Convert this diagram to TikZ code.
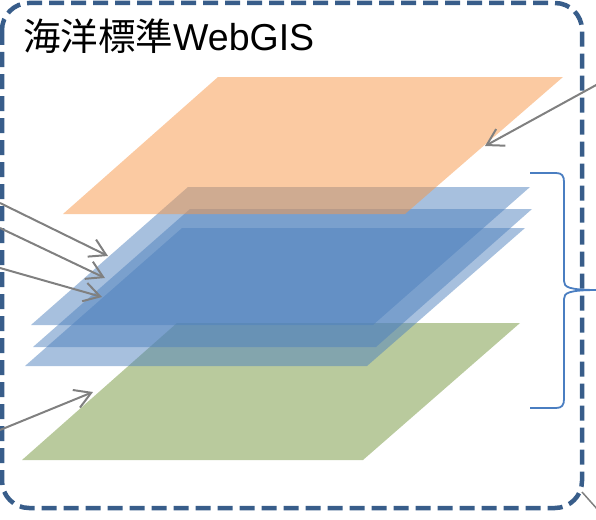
\documentclass[tikz,border=0pt]{standalone}
\usepackage{fontspec}
\setmainfont{Liberation Sans}
\newfontfamily\cjk{Noto Sans CJK JP}
\usetikzlibrary{arrows.meta}
\definecolor{layerorange}{RGB}{247,150,70}
\definecolor{layerblue}{RGB}{79,129,189}
\definecolor{layergreen}{RGB}{185,202,157}
\definecolor{framecol}{RGB}{56,93,138}
\definecolor{bracecol}{RGB}{74,126,193}
\definecolor{arrowgray}{RGB}{128,128,128}
\tikzset{
  framebox/.style={draw=framecol, line width=4.5pt, dash pattern=on 15pt off 7pt, rounded corners=27pt},
  bluelayer/.style={fill=layerblue, fill opacity=0.5, draw=none},
  orangelayer/.style={fill=layerorange, fill opacity=0.5, draw=none},
  greenlayer/.style={fill=layergreen, draw=none},
  pointer/.style={draw=arrowgray, line width=2pt, -{Straight Barb[length=16pt,width=19pt,line width=2pt]}},
  bracestyle/.style={draw=bracecol, line width=1.8pt},
}
\begin{document}
\begin{tikzpicture}[x=1pt,y=-1pt]
\useasboundingbox (0,0) rectangle (596,519);
\clip (0,0) rectangle (596,519);

% layers
\path[greenlayer] (177,323) -- (520,323) -- (363,460) -- (22,460) -- cycle;
\path[bluelayer] (188,187) -- (530,187) -- (373,325) -- (31,325) -- cycle;
\path[bluelayer] (190,209) -- (532,209) -- (376,347) -- (33,347) -- cycle;
\path[bluelayer] (182,228) -- (525,228) -- (367,366) -- (25,366) -- cycle;
\path[orangelayer] (218,77) -- (563,77) -- (405,214) -- (63,214) -- cycle;

% frame
\draw[framebox] (2,3) rectangle (582,508);

% title
\node[anchor=base west, inner sep=0pt, font=\fontsize{37.5}{40}\selectfont] (title) at (23,50) {{\cjk 海洋標準}WebGIS};

% arrow end points
\coordinate (a1s) at (0,203);  \coordinate (a1e) at (108,256);
\coordinate (a2s) at (0,228);  \coordinate (a2e) at (105,278);
\coordinate (a3s) at (0,268);  \coordinate (a3e) at (102,297);
\coordinate (a4s) at (0,430);  \coordinate (a4e) at (93,392);
\coordinate (a5s) at (598,84); \coordinate (a5e) at (485,146);
\coordinate (a6s) at (582,492); \coordinate (a6e) at (598,510);

\draw[pointer] (a1s) -- (a1e);
\draw[pointer] (a2s) -- (a2e);
\draw[pointer] (a3s) -- (a3e);
\draw[pointer] (a4s) -- (a4e);
\draw[pointer] (a5s) -- (a5e);
\draw[draw=arrowgray, line width=1.5pt] (a6s) -- (a6e);

% brace
\coordinate (bt) at (530,173);
\coordinate (bb) at (530,408);
\coordinate (btip) at (598,290);
\draw[bracestyle] (bt) -- (556,173) .. controls (562,173) and (564,176) .. (564,182)
  -- (564,281) .. controls (564,287) and (568,290) .. (btip)
  .. controls (568,290) and (564,293) .. (564,299)
  -- (564,399) .. controls (564,405) and (562,408) .. (556,408) -- (bb);
\end{tikzpicture}
\end{document}
